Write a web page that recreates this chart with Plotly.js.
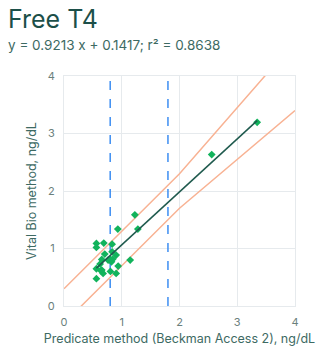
<!DOCTYPE html>
<html>
<head>
<meta charset="utf-8">
<script src="https://cdn.plot.ly/plotly-3.0.1.min.js"></script>
<style>
html,body{margin:0;padding:0;background:#fff;}
#chart{width:323px;height:346px;}
</style>
</head>
<body>
<div id="chart"></div>
<script>
// Data
const predicateX = [3.345, 2.558, 1.227, 1.279, 0.932, 0.561, 0.561, 0.689, 0.833, 0.706, 0.833, 0.903, 0.654, 0.764, 0.804, 0.845, 0.822, 0.625, 0.561, 0.642, 0.677, 0.654, 0.938, 1.146, 0.804, 0.903, 0.561];
const vitalY     = [3.194, 2.633, 1.586, 1.337, 1.337, 1.088, 1.019, 1.094, 1.076, 0.903, 0.943, 0.885, 0.810, 0.799, 0.810, 0.816, 0.770, 0.729, 0.648, 0.613, 0.567, 0.625, 0.694, 0.799, 0.602, 0.567, 0.475];
const slope = 0.9213;
const intercept = 0.1417;
const r2 = 0.8638;
const fitX = [0.561, 3.345];
const limitX = [0, 2, 4];
const upperY = [0.3, 2.3, 4.6];
const lowerY = [-0.3, 1.7, 3.4];
const cutoffs = [0.8, 1.8];
const tickVals = [0, 1, 2, 3, 4];

const traces = [];
cutoffs.forEach(c => traces.push({
  x: [c, c], y: [0, 4], mode: 'lines', type: 'scatter',
  line: {color: '#3d8ef2', width: 1.5, dash: 'dash'}, hoverinfo: 'skip', showlegend: false
}));
traces.push({x: limitX, y: upperY, mode: 'lines', type: 'scatter',
  line: {color: '#f8b293', width: 1.5}, showlegend: false});
traces.push({x: limitX, y: lowerY, mode: 'lines', type: 'scatter',
  line: {color: '#f8b293', width: 1.5}, showlegend: false});
traces.push({x: predicateX, y: vitalY, mode: 'markers', type: 'scatter',
  marker: {symbol: 'diamond', size: 6, color: '#12b35c'}, showlegend: false});
traces.push({x: fitX, y: fitX.map(v => slope * v + intercept), mode: 'lines', type: 'scatter',
  line: {color: '#1f5a4e', width: 1.5}, showlegend: false});

const axisCommon = {
  range: [0, 4], tickvals: tickVals, showgrid: true, gridcolor: '#e6eaed', gridwidth: 1,
  zeroline: false, showline: true, linecolor: '#e6eaed', linewidth: 1, mirror: true,
  ticks: '', tickfont: {family: 'Inter', size: 11, color: '#6a807c'}, fixedrange: true
};

const layout = {
  width: 323, height: 346,
  margin: {l: 64, r: 28, t: 76, b: 40},
  paper_bgcolor: '#fff', plot_bgcolor: '#fff',
  font: {family: 'Inter'},
  xaxis: Object.assign({}, axisCommon, {
    ticklabelstandoff: 6,
    title: {text: 'Predicate method (Beckman Access 2), ng/dL', standoff: 13,
      font: {family: 'Inter', size: 12.5, color: '#3d6a63'}}
  }),
  yaxis: Object.assign({}, axisCommon, {
    ticklabelstandoff: 6,
    title: {text: 'Vital Bio method, ng/dL', standoff: 8,
      font: {family: 'Inter', size: 12.5, color: '#3d6a63'}}
  }),
  annotations: [
    {text: 'Free T4', xref: 'paper', yref: 'paper', x: -58/231, y: 1 + 40/230,
     xanchor: 'left', yanchor: 'bottom', showarrow: false,
     font: {family: 'Inter', size: 25, color: '#1c4f49'}},
    {text: 'y = ' + slope + ' x + ' + intercept + '; r² = ' + r2, xref: 'paper', yref: 'paper',
     x: -58/231, y: 1 + 21/230, xanchor: 'left', yanchor: 'bottom', showarrow: false,
     font: {family: 'Inter', size: 13.5, color: '#3d6a63'}}
  ]
};

Plotly.newPlot('chart', traces, layout, {displayModeBar: false, staticPlot: true});
</script>
</body>
</html>
